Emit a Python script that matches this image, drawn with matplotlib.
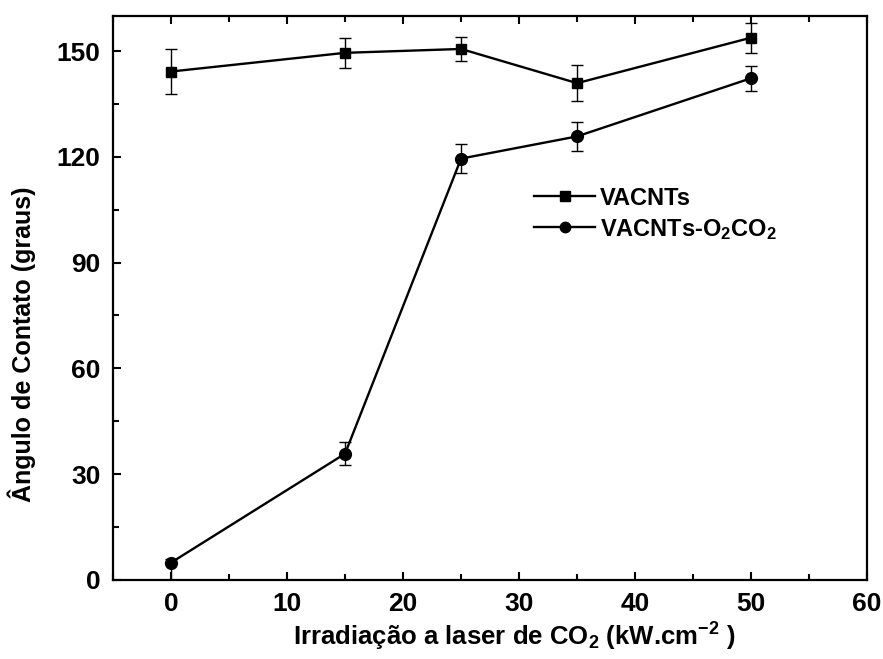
import matplotlib
matplotlib.use("Agg")
import matplotlib.pyplot as plt
from matplotlib.ticker import MultipleLocator
from matplotlib.lines import Line2D

plt.rcParams['font.family'] = ['Liberation Sans', 'DejaVu Sans']
plt.rcParams['font.weight'] = 'bold'
plt.rcParams['mathtext.fontset'] = 'custom'
plt.rcParams['mathtext.rm'] = 'Liberation Sans:bold'
plt.rcParams['mathtext.it'] = 'Liberation Sans:bold'
plt.rcParams['mathtext.bf'] = 'Liberation Sans:bold'
plt.rcParams['mathtext.default'] = 'rm'

x = [0, 15, 25, 35, 50]
vacnts = [144.2, 149.5, 150.6, 140.9, 153.8]
vacnts_err = [6.3, 4.2, 3.5, 5.2, 4.3]
o2co2 = [4.9, 35.8, 119.5, 125.8, 142.3]
o2co2_err_low = [4.9, 3.3, 4.1, 4.2, 3.6]
o2co2_err_high = [1.0, 3.3, 4.1, 4.2, 3.6]

xticks = [0, 10, 20, 30, 40, 50, 60]
yticks = [0, 30, 60, 90, 120, 150]

fig = plt.figure(figsize=(8.83, 6.59), dpi=100)
ax = fig.add_axes([0.128, 0.12, 0.854, 0.856])

ax.errorbar(x, vacnts, yerr=vacnts_err, color='black', marker='s', markersize=7.5,
            linewidth=1.7, elinewidth=1.0, capsize=4, capthick=1.0)
ax.errorbar(x, o2co2, yerr=[o2co2_err_low, o2co2_err_high], color='black', marker='o',
            markersize=8.5, linewidth=1.7, elinewidth=1.0, capsize=4, capthick=1.0)

ax.set_xlim(-5, 60)
ax.set_ylim(0, 160)
ax.set_xticks(xticks)
ax.set_yticks(yticks)
ax.xaxis.set_minor_locator(MultipleLocator(5))
ax.yaxis.set_minor_locator(MultipleLocator(15))
ax.tick_params(axis='x', which='both', direction='in', top=True, labelsize=19, pad=9)
ax.tick_params(axis='y', which='both', direction='in', right=False, labelsize=19, pad=9)
ax.tick_params(which='major', length=6, width=1.5)
ax.tick_params(which='minor', length=4, width=1.5)
for s in ax.spines.values():
    s.set_linewidth(1.6)

ax.set_xlabel('Irradiação a laser de CO$_2$ (kW.cm$^{-2}$ )', fontsize=18.5, fontweight='bold')
ax.set_ylabel('Ângulo de Contato (graus)', fontsize=18, fontweight='bold')
ax.xaxis.set_label_coords(0.532, -0.101, transform=ax.transAxes)
ax.yaxis.set_label_coords(-0.121, 0.417, transform=ax.transAxes)
ax.xaxis.label.set_va('center')
ax.yaxis.label.set_va('center')

handles = [Line2D([], [], color='black', marker='s', markersize=7, linewidth=1.7),
           Line2D([], [], color='black', marker='o', markersize=7.5, linewidth=1.7)]
labels = ['VACNTs', 'VACNTs-O$_2$CO$_2$']
ax.legend(handles, labels, loc='upper left', bbox_to_anchor=(0.53, 0.735), frameon=False,
          fontsize=17, handlelength=2.6, labelspacing=0.3, handletextpad=0.2)

fig.savefig('out.png', dpi=100)
